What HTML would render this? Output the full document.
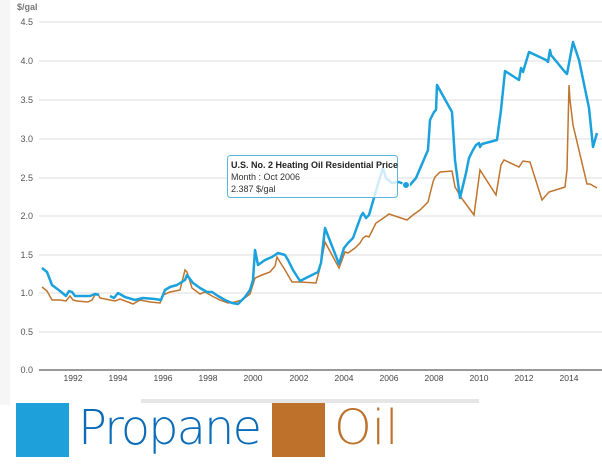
<!DOCTYPE html><html><head><style>body{margin:0;background:#fff;width:602px;height:475px;overflow:hidden;position:relative;font-family:"Liberation Sans",sans-serif}
</style></head><body>
<div style="position:absolute;left:0;top:0;width:10px;height:405px;background:#f6f6f6"></div>
<svg width="602" height="410" style="position:absolute;left:0;top:0" font-family="Liberation Sans" font-size="9" fill="#555">
<text x="17" y="10" font-weight="bold" fill="#777">$/gal</text>
<g stroke="#ddd" stroke-width="1">
<line x1="39" x2="602" y1="22" y2="22"/><line x1="39" x2="602" y1="61" y2="61"/><line x1="39" x2="602" y1="100" y2="100"/><line x1="39" x2="602" y1="139" y2="139"/><line x1="39" x2="602" y1="178" y2="178"/><line x1="39" x2="602" y1="216" y2="216"/><line x1="39" x2="602" y1="255" y2="255"/><line x1="39" x2="602" y1="293" y2="293"/><line x1="39" x2="602" y1="332" y2="332"/></g>
<line x1="39" x2="602" y1="370" y2="370" stroke="#333"/>
<g text-anchor="end"><text x="33" y="25">4.5</text><text x="33" y="64">4.0</text><text x="33" y="103">3.5</text><text x="33" y="142">3.0</text><text x="33" y="181">2.5</text><text x="33" y="219">2.0</text><text x="33" y="258">1.5</text><text x="33" y="296">1.0</text><text x="33" y="335">0.5</text><text x="33" y="373">0.0</text></g>
<g text-anchor="middle" font-size="8.5" fill="#444"><text x="73" y="381">1992</text><text x="118" y="381">1994</text><text x="163" y="381">1996</text><text x="208" y="381">1998</text><text x="253" y="381">2000</text><text x="299" y="381">2002</text><text x="344" y="381">2004</text><text x="389" y="381">2006</text><text x="434" y="381">2008</text><text x="479" y="381">2010</text><text x="524" y="381">2012</text><text x="569" y="381">2014</text></g>
<rect x="141" y="399" width="338" height="4" fill="#e6e6e6"/>
<polyline fill="none" stroke="#c0742c" stroke-width="1.5" points="42,287 47,291 52,300 60,300 66,301 70,296 73,300 77,301 88,302 92,300 95,295 98,294 100,298 110,300 115,301 120,299 128,302 133,304 140,300 150,302 160,303 163,295 170,292 180,290 185,270 187,272 192,288 200,294 205,292 212,296 220,300 228,303 235,302 242,300 250,294 255,278 262,275 270,272 275,266 277,257 280,262 285,270 292,282 300,282 316,283 320,268 325,242 339,268 345,252 348,253 355,248 360,243 363,238 366,236 369,237 376,223 385,217 389,214 407,220 413,215 420,210 428,202 433,182 435,177 440,172 452,171 455,187 458,192 460,196 474,215 478,185 480,170 496,195 501,165 504,160 519,167 523,161 530,162 542,200 549,192 565,187 567,170 569,85 570,100 573,125 587,184 590,184 597,188"/>
<g fill="none" stroke="#1ba1dc" stroke-width="2.5" stroke-linejoin="round">
<polyline points="42,268 47,272 52,285 60,291 66,296 69,291 72,292 75,296 90,296 95,294 99,295"/>
<polyline points="110,296 114,298 118,293 125,297 135,300 143,298 155,299 161,300 165,290 170,287 177,285 185,280 187,275 193,283 200,288 207,292 212,292 218,296 225,300 232,303 238,304 245,297 250,290 253,280 255,250 258,265 265,260 272,257 278,253 285,255 288,260 293,270 300,281 318,272 321,263 325,228 339,264 344,248 348,243 353,238 361,216 363,213 366,218 369,215 378,184 383,168 386,178 392,183 399,182 406,185 410,185 416,178 428,150 430,120 434,112 436,110 437,85 452,112 455,160 460,198 466,173 469,158 473,150 476,145 479,143 480,147 482,144 497,140 501,110 505,71 519,80 521,68 523,72 529,52 546,60 548,62 550,50 551,55 565,72 567,74 573,42 579,60 589,108 593,147 597,133"/></g>
<circle cx="406" cy="185" r="3.5" fill="#1ba1dc" stroke="#fff"/>
<rect x="227.5" y="155.5" width="170" height="42" rx="3" fill="#fff" fill-opacity="0.8" stroke="#5ab4e0"/>
<text x="231" y="168" font-weight="bold" fill="#222">U.S. No. 2 Heating Oil Residential Price</text>
<text x="231" y="180" fill="#333">Month : Oct 2006</text>
<text x="231" y="192" fill="#333">2.387 $/gal</text>
</svg>
<div style="position:absolute;left:16px;top:403px;width:53px;height:54px;background:#1ea0db"></div>
<div style="position:absolute;left:78px;top:396px;font-size:48px;line-height:64px;color:#0a6bb8;font-family:'DejaVu Sans',sans-serif;font-weight:200;letter-spacing:-2px">Propane</div>
<div style="position:absolute;left:272px;top:403px;width:53px;height:54px;background:#bd712b"></div>
<div style="position:absolute;left:334px;top:396px;font-size:48px;line-height:64px;color:#bd712b;font-family:'DejaVu Sans',sans-serif;font-weight:200">Oil</div>
</body></html>
